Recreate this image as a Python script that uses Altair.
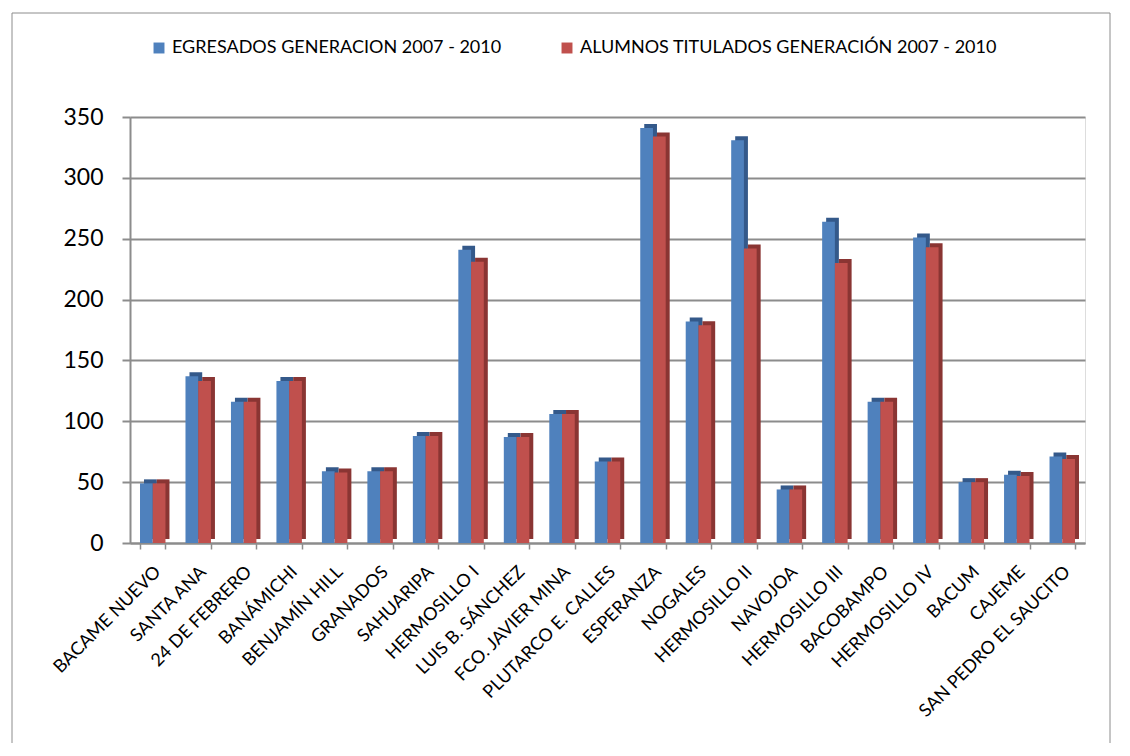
import altair as alt
import pandas as pd

categories = ["BACAME NUEVO", "SANTA ANA", "24 DE FEBRERO", "BANÁMICHI", "BENJAMÍN HILL",
              "GRANADOS", "SAHUARIPA", "HERMOSILLO I", "LUIS B. SÁNCHEZ", "FCO. JAVIER MINA",
              "PLUTARCO E. CALLES", "ESPERANZA", "NOGALES", "HERMOSILLO II", "NAVOJOA",
              "HERMOSILLO III", "BACOBAMPO", "HERMOSILLO IV", "BACUM", "CAJEME",
              "SAN PEDRO EL SAUCITO"]
egresados = [49, 137, 116, 133, 59, 59, 88, 241, 87, 106, 67, 341, 182, 331, 44, 264, 116, 251, 50, 56, 71]
titulados = [49, 133, 116, 133, 58, 59, 88, 231, 87, 106, 67, 334, 179, 242, 44, 230, 116, 243, 50, 55, 69]
series = ["EGRESADOS GENERACION 2007 - 2010", "ALUMNOS TITULADOS GENERACIÓN 2007 - 2010"]

rows = []
for i, c in enumerate(categories):
    rows.append({"cat": c, "serie": series[0], "val": egresados[i]})
    rows.append({"cat": c, "serie": series[1], "val": titulados[i]})
df = pd.DataFrame(rows)

FONT = "Lato"
W, H = 955, 426
PI, PO = 0.44, 0.22
n = len(categories)
step = W / (n - PI + 2 * PO)
bw = step * (1 - PI)
D = 4  # depth of the 3D side

xscale = alt.Scale(paddingInner=PI, paddingOuter=PO)

x_enc = alt.X("cat:N", sort=categories, scale=xscale,
              axis=alt.Axis(title=None, labelAngle=-45, labelAlign="right", labelBaseline="middle",
                            labelFontSize=18, labelFont=FONT, labelColor="black", labelPadding=20,
                            labelOffset=5,
                            tickBand="extent", tickSize=6, tickColor="#8c8c8c", tickWidth=1.5,
                            domainColor="#8c8c8c", domainWidth=2, labelOverlap=False, labelLimit=400))
y_enc = alt.Y("val:Q", scale=alt.Scale(domain=[0, 350]),
              axis=alt.Axis(title=None, values=[0, 50, 100, 150, 200, 250, 300, 350],
                            labelFontSize=23, labelFont=FONT, labelColor="black", labelPadding=19,
                            tickSize=8, tickColor="#8c8c8c", tickWidth=2,
                            domainColor="#8c8c8c", domainWidth=2,
                            gridColor="#8c8c8c", gridWidth=2))

border = alt.Chart(pd.DataFrame({"a": [0]})).mark_rect(
    fill=None, stroke="#8c8c8c", strokeWidth=1).encode(
    x=alt.value(-118), x2=alt.value(980), y=alt.value(-104), y2=alt.value(640))

side = alt.Chart(df).mark_bar(yOffset=-D).encode(
    x=x_enc,
    xOffset=alt.XOffset("serie:N", sort=series, scale=alt.Scale(domain=series, range=[D, bw + D])),
    y=y_enc,
    color=alt.Color("serie:N", sort=series,
                    scale=alt.Scale(domain=series, range=["#34598a", "#8a3533"]), legend=None))

front = alt.Chart(df).mark_bar().encode(
    x=x_enc,
    xOffset=alt.XOffset("serie:N", sort=series, scale=alt.Scale(domain=series, range=[0, bw])),
    y=y_enc,
    color=alt.Color("serie:N", sort=series,
                    scale=alt.Scale(domain=series, range=["#4F81BD", "#C0504D"]),
                    legend=alt.Legend(title=None, orient="none", direction="horizontal",
                                      legendX=20, legendY=-78, labelFont=FONT, labelFontSize=18,
                                      labelColor="black", symbolType="square", symbolSize=120,
                                      symbolStrokeWidth=0, columnPadding=56, labelLimit=600)))

chart = alt.layer(border, side, front).resolve_scale(color="independent", xOffset="independent").properties(
    width=W, height=H,
    autosize=alt.AutoSizeParams(type="none"),
    padding={"left": 122, "top": 109, "right": 32, "bottom": 200},
).configure_view(stroke=None).configure(background="white")

chart.save("out.html", embed_options={"renderer": "svg", "actions": False})
